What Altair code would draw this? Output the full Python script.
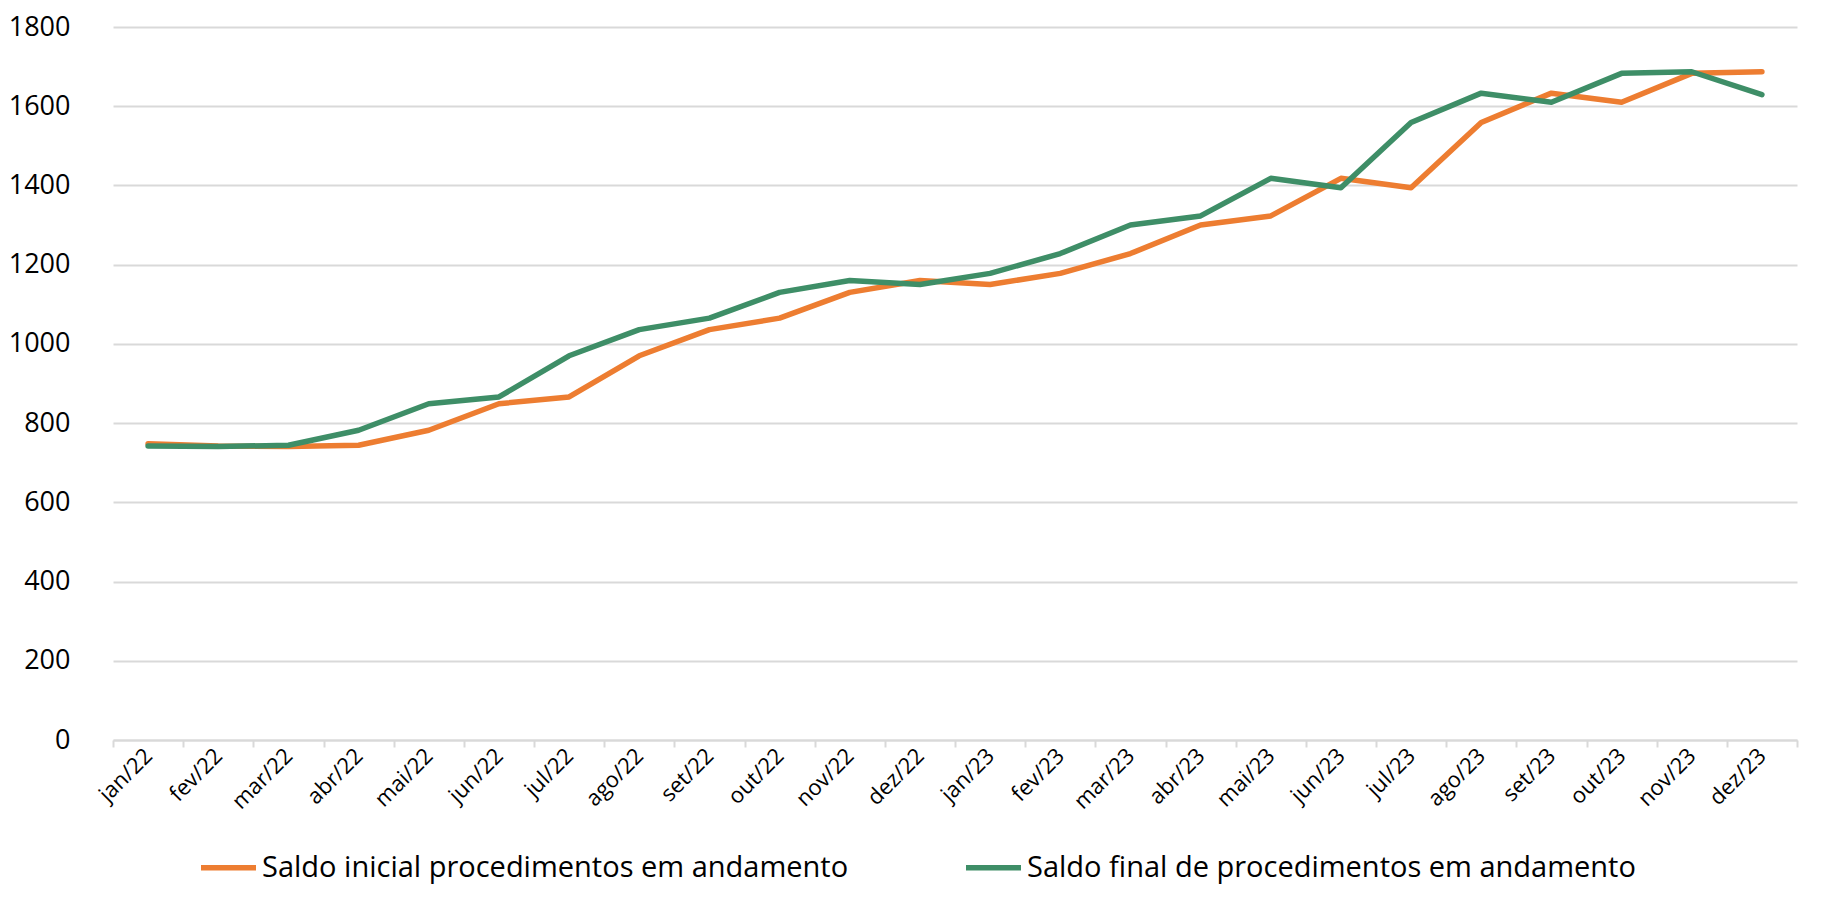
import altair as alt
import pandas as pd

months = ["jan/22", "fev/22", "mar/22", "abr/22", "mai/22", "jun/22", "jul/22", "ago/22",
          "set/22", "out/22", "nov/22", "dez/22", "jan/23", "fev/23", "mar/23", "abr/23",
          "mai/23", "jun/23", "jul/23", "ago/23", "set/23", "out/23", "nov/23", "dez/23"]

saldo_inicial = [748, 742, 741, 744, 782, 849, 866, 970, 1036, 1065, 1130, 1160,
                 1150, 1178, 1228, 1300, 1323, 1418, 1394, 1559, 1633, 1610, 1683, 1687]
saldo_final = [742, 741, 744, 782, 849, 866, 970, 1036, 1065, 1130, 1160, 1150,
               1178, 1228, 1300, 1323, 1418, 1394, 1559, 1633, 1610, 1683, 1687, 1629]

series_names = ["Saldo inicial procedimentos em andamento",
                "Saldo final de procedimentos em andamento"]
series_colors = ["#ED7D31", "#3E8E67"]

y_ticks = [0, 200, 400, 600, 800, 1000, 1200, 1400, 1600, 1800]

rows = []
for name, vals in zip(series_names, [saldo_inicial, saldo_final]):
    for m, v in zip(months, vals):
        rows.append({"mes": m, "valor": v, "serie": name})
df = pd.DataFrame(rows)

FONT = "Open Sans"

chart = alt.Chart(df).mark_line(strokeWidth=5.5, strokeCap="round", strokeJoin="round").encode(
    x=alt.X("mes:N", sort=months, title=None,
            scale=alt.Scale(paddingInner=0, paddingOuter=0),
            axis=alt.Axis(labelAngle=-45, labelAlign="right", labelBaseline="middle",
                          labelFontSize=22, labelFont=FONT, labelColor="#000000",
                          labelPadding=5, tickBand="extent", ticks=True, tickSize=7,
                          tickColor="#d9d9d9", tickWidth=2, domainColor="#d9d9d9",
                          domainWidth=2, grid=False, labelOverlap=False)),
    y=alt.Y("valor:Q", title=None,
            scale=alt.Scale(domain=[0, 1800], nice=False),
            axis=alt.Axis(values=y_ticks, format="d", labelFontSize=27, labelFont=FONT,
                          labelColor="#000000", labelPadding=43, ticks=False,
                          domain=False, grid=True, gridColor="#d9d9d9", gridWidth=2)),
    color=alt.Color("serie:N", sort=series_names,
                    scale=alt.Scale(domain=series_names, range=series_colors),
                    legend=alt.Legend(title=None, orient="none", direction="horizontal",
                                      legendX=85, legendY=810,
                                      symbolType="stroke", symbolSize=3025,
                                      symbolStrokeWidth=5.5, labelFontSize=29,
                                      labelFont=FONT, labelColor="#000000",
                                      labelOffset=3, columnPadding=106,
                                      labelLimit=1000)),
).properties(
    width=1684, height=713,
    autosize=alt.AutoSizeParams(type="none"),
    padding={"left": 105, "top": 19, "right": 16, "bottom": 150},
).configure_view(stroke=None)

chart.save("out.html", embed_options={"renderer": "svg", "actions": False})
